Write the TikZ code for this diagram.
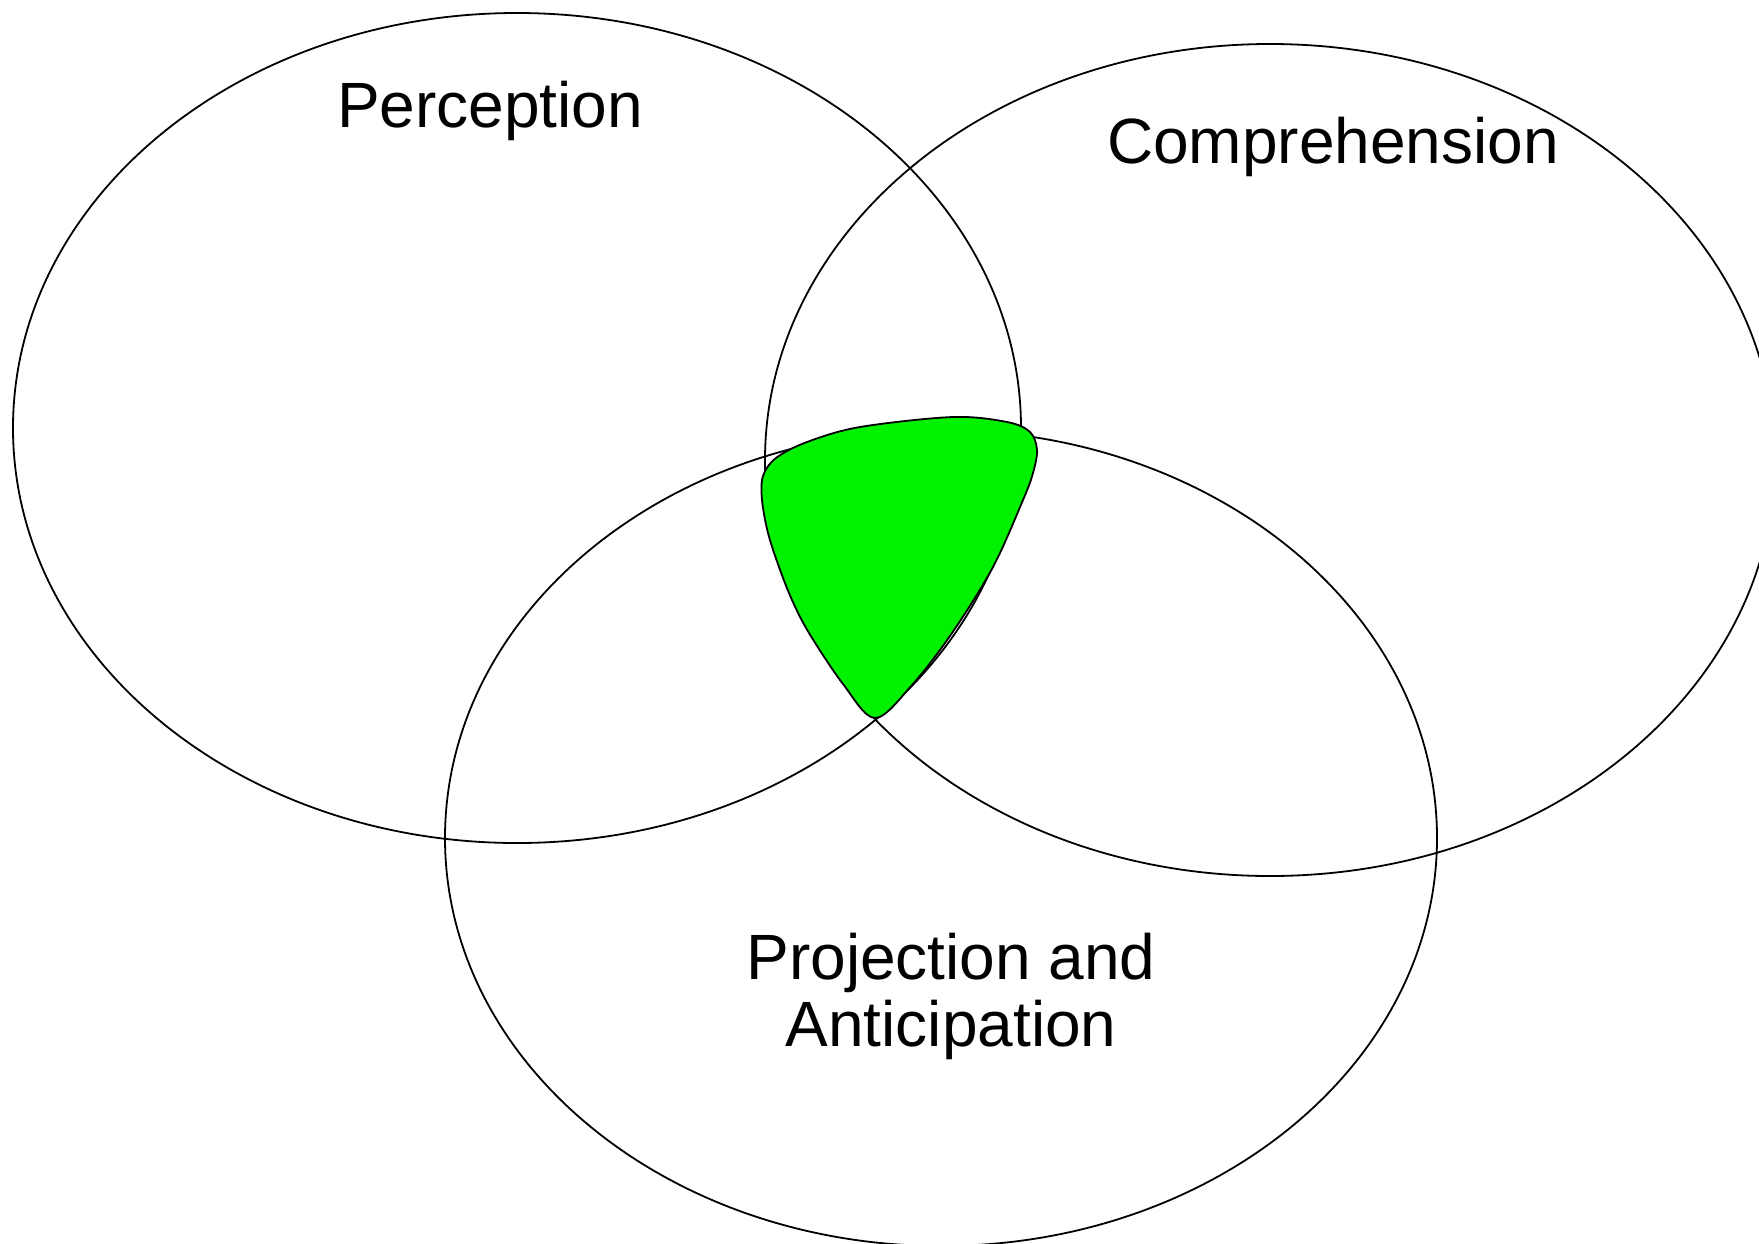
\documentclass[tikz,border=0pt]{standalone}
\usepackage{fontspec}
\setmainfont{Liberation Sans}
\definecolor{vgreen}{RGB}{0,242,0}
\begin{document}
\begin{tikzpicture}[x=1pt,y=-1pt,
  venn/.style={draw=black,line width=1.8pt},
  lbl/.style={font=\fontsize{64}{67}\selectfont,inner sep=0pt,text=black}]
\useasboundingbox (0,0) rectangle (1759,1243);
\begin{scope}
\clip (0,0) rectangle (1759,1243);
\draw[venn] (517,428) ellipse [x radius=504,y radius=415];
\draw[venn] (1270,460) ellipse [x radius=505,y radius=416];
\draw[venn] (941,838) ellipse [x radius=496,y radius=408];
\end{scope}
\draw[line width=1.8pt,line join=round,fill=vgreen] plot[smooth cycle,tension=0.55] coordinates {
  (875,718) (843,684) (809,633) (792,600) (779,567) (768,533) (762,500)
  (763,476) (776,458) (807,442) (860,427) (953,417) (1007,422) (1030,432)
  (1037,450) (1033,473) (1023,500) (993,567) (952,633) (912,685)};
\node[lbl,anchor=base] (perc) at (490,127) {Perception};
\node[lbl,anchor=base] (comp) at (1333,163) {Comprehension};
\node[lbl,anchor=base,align=center] (proj) at (951,1046) {Projection and\\Anticipation};
\end{tikzpicture}
\end{document}
